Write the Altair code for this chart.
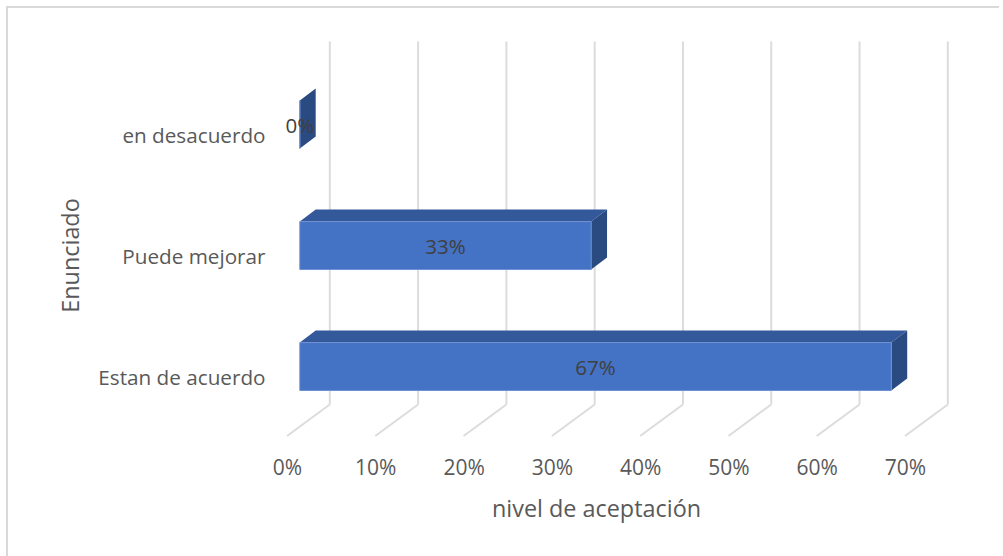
import altair as alt
import pandas as pd

# Survey results
categories = ["Estan de acuerdo", "Puede mejorar", "en desacuerdo"]
values = [67, 33, 0]
ticks = [0, 10, 20, 30, 40, 50, 60, 70]

FONT = "Open Sans"
X_MAX, Y_MAX = 70, 3

# Pseudo-3D projection, in axis units: how far the back wall sits from the floor's
# front edge, where a bar's front face sits, and how deep each bar is.
WALL_DX, WALL_DY = 4.85, 0.26
BAR_DX, BAR_DY = 1.45, 0.074
DEPTH_DX, DEPTH_DY = 1.8, 0.099
HALF_H = 0.198

x_scale = alt.Scale(domain=[0, X_MAX], range=[0, 618], nice=False, zero=False)
y_scale = alt.Scale(domain=[0, Y_MAX], range=[363, 0], nice=False, zero=False)

label_map = "{" + ",".join(f"'{i + 0.5}':'{c}'" for i, c in enumerate(categories)) + "}"

grid_rows = []
for t in ticks:
    grid_rows.append({"x": t, "x2": t + WALL_DX, "y": 0, "y2": WALL_DY})
    grid_rows.append({"x": t + WALL_DX, "x2": t + WALL_DX, "y": WALL_DY, "y2": Y_MAX + WALL_DY})
grid_df = pd.DataFrame(grid_rows)

front_rows, top_rows, side_rows, label_rows = [], [], [], []
for i, (c, v) in enumerate(zip(categories, values)):
    centre = i + 0.5 + BAR_DY
    left, right = BAR_DX, v + BAR_DX
    low, high = centre - HALF_H, centre + HALF_H
    front_rows.append({"c": c, "x": left, "x2": right, "y": low, "y2": high})
    top_rows.append({"c": c, "x": left, "x2": right, "y": high})
    top_rows.append({"c": c, "x": left + DEPTH_DX, "x2": right + DEPTH_DX, "y": high + DEPTH_DY})
    side_rows.append({"c": c, "x": right, "y": low, "y2": high})
    side_rows.append({"c": c, "x": right + DEPTH_DX, "y": low + DEPTH_DY, "y2": high + DEPTH_DY})
    label_rows.append({"x": (left + right) / 2, "y": centre, "t": f"{v}%"})

x_axis = alt.Axis(
    values=ticks, labelExpr="datum.value + '%'", domain=False, ticks=False, grid=False,
    labelPadding=21, labelFlush=False, labelBound=False, labelOverlap=False,
    labelFont=FONT, labelFontSize=21, labelColor="#595959",
    title="nivel de aceptación", titleFont=FONT, titleFontSize=23.4, titleFontWeight="normal",
    titleColor="#595959", titleY=62,
)
y_axis = alt.Axis(
    values=[i + 0.5 for i in range(len(categories))],
    labelExpr=f"{label_map}[datum.value]",
    domain=False, ticks=False, grid=False,
    labelPadding=22, labelOffset=3, labelFlush=False, labelBound=False, labelOverlap=False,
    labelFont=FONT, labelFontSize=20.7, labelColor="#595959",
    title="Enunciado", titleFont=FONT, titleFontSize=23.4, titleFontWeight="normal",
    titleColor="#595959", titleX=-204, titleY=182,
)

X = lambda f: alt.X(f, type="quantitative", scale=x_scale, axis=x_axis)
Y = lambda f: alt.Y(f, type="quantitative", scale=y_scale, axis=y_axis)

grid = (
    alt.Chart(grid_df)
    .mark_rule(color="#dcdcdc", strokeWidth=2)
    .encode(x=X("x"), x2="x2:Q", y=Y("y"), y2="y2:Q")
)
front = (
    alt.Chart(pd.DataFrame(front_rows))
    .mark_rect(color="#4472c4", stroke="#6f92d2", strokeWidth=1)
    .encode(x=X("x"), x2="x2:Q", y=Y("y"), y2="y2:Q")
)
top = (
    alt.Chart(pd.DataFrame(top_rows))
    .mark_area(color="#34599b", orient="horizontal")
    .encode(y=Y("y"), x=X("x"), x2="x2:Q", detail="c:N")
)
side = (
    alt.Chart(pd.DataFrame(side_rows))
    .mark_area(color="#2a4a82", orient="vertical")
    .encode(x=X("x"), y=Y("y"), y2="y2:Q", detail="c:N")
)
labels = (
    alt.Chart(pd.DataFrame(label_rows))
    .mark_text(font=FONT, fontSize=20.5, color="#404040", dy=2)
    .encode(x=X("x"), y=Y("y"), text="t:N")
)

# Thin outline along the left and top edges of the chart area
frame_src = pd.DataFrame({"a": [0]})
frame_left = alt.Chart(frame_src).mark_rule(color="#d9d9d9", strokeWidth=2).encode(
    x=alt.value(-280), y=alt.value(-66), y2=alt.value(483)
)
frame_top = alt.Chart(frame_src).mark_rule(color="#d9d9d9", strokeWidth=2).encode(
    x=alt.value(-281), x2=alt.value(712), y=alt.value(-66)
)

chart = (
    alt.layer(frame_left, frame_top, grid, top, side, front, labels)
    .properties(
        width=618,
        height=363,
        autosize=alt.AutoSizeParams(type="none"),
        padding={"left": 287, "top": 73, "right": 98, "bottom": 120},
        background="white",
    )
    .configure_view(stroke=None)
)

chart.save("out.html", embed_options={"renderer": "svg", "actions": False})
